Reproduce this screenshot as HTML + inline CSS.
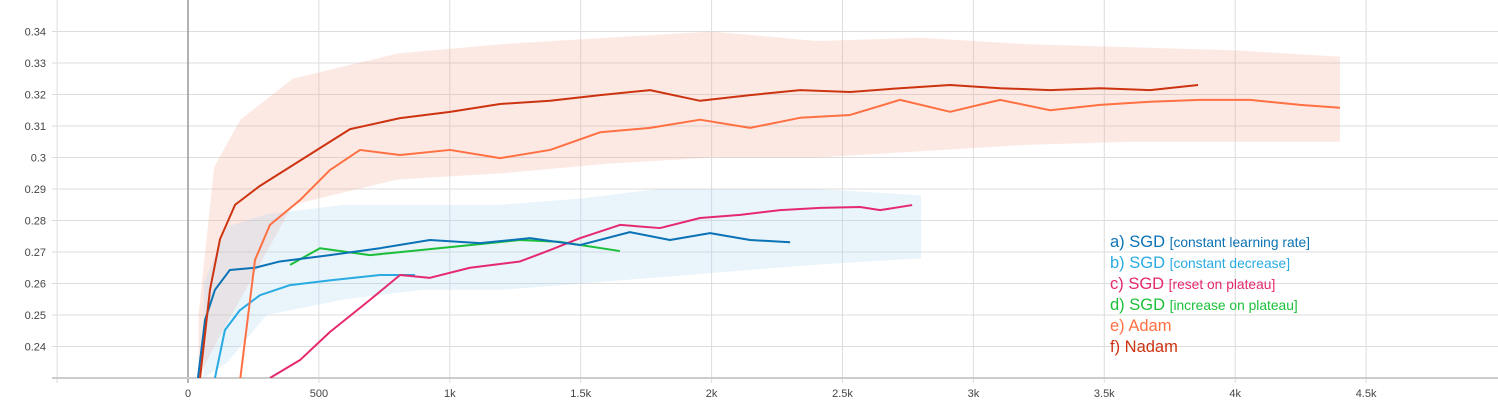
<!DOCTYPE html>
<html><head><meta charset="utf-8"><style>
html,body{margin:0;padding:0;background:#fff;width:1498px;height:400px;overflow:hidden}
svg{display:block;font-family:"Liberation Sans",sans-serif}
</style></head><body>
<svg id="chart" width="1498" height="400" xmlns="http://www.w3.org/2000/svg"></svg>
<script>
const xTicks=[-500,0,500,1000,1500,2000,2500,3000,3500,4000,4500];
const xTickLabels=["","0","500","1k","1.5k","2k","2.5k","3k","3.5k","4k","4.5k"];
const yTicks=[0.24,0.25,0.26,0.27,0.28,0.29,0.3,0.31,0.32,0.33,0.34];
const yTickLabels=["0.24","0.25","0.26","0.27","0.28","0.29","0.3","0.31","0.32","0.33","0.34"];
const nadamX=[46,84,122,180,275,428,619,810,1001,1192,1383,1574,1765,1956,2147,2338,2529,2720,2911,3102,3293,3484,3675,3858];
const nadamY=[0.23,0.258,0.274,0.285,0.291,0.299,0.309,0.3125,0.3145,0.317,0.318,0.3198,0.3214,0.318,0.3198,0.3214,0.3208,0.322,0.323,0.322,0.3214,0.322,0.3214,0.323];
const adamX=[200,256,313,428,542,657,810,1001,1192,1383,1574,1765,1956,2147,2338,2529,2720,2911,3102,3293,3484,3675,3866,4057,4248,4400];
const adamY=[0.23,0.2675,0.2786,0.2865,0.296,0.3024,0.3008,0.3024,0.2998,0.3024,0.308,0.3094,0.312,0.3094,0.3126,0.3135,0.3183,0.3145,0.3183,0.315,0.3167,0.3177,0.3183,0.3183,0.3167,0.3158];
const sgdAX=[38,65,103,160,256,351,542,733,924,1115,1306,1497,1688,1841,1994,2147,2300];
const sgdAY=[0.23,0.2484,0.258,0.2643,0.265,0.267,0.269,0.2712,0.2738,0.2728,0.2744,0.2722,0.2763,0.2738,0.276,0.2738,0.2731];
const sgdBX=[103,141,198,275,390,542,733,867];
const sgdBY=[0.23,0.2452,0.2515,0.2563,0.2595,0.261,0.2627,0.2627];
const sgdCX=[313,428,542,695,810,924,1077,1268,1383,1497,1650,1803,1956,2109,2262,2415,2567,2644,2766];
const sgdCY=[0.23,0.2357,0.2446,0.2548,0.2627,0.2618,0.265,0.267,0.2706,0.2744,0.2786,0.2776,0.2808,0.2818,0.2833,0.284,0.2843,0.2833,0.2849];
const sgdDX=[390,504,695,886,1077,1268,1421,1650];
const sgdDY=[0.2659,0.2712,0.269,0.2706,0.2722,0.2738,0.2732,0.2703];
const adamBandX=[40,100,200,400,800,1200,1600,2000,2400,2800,3200,3600,4000,4400];
const adamBandHi=[0.25,0.297,0.312,0.325,0.333,0.336,0.338,0.34,0.337,0.338,0.336,0.335,0.334,0.332];
const adamBandLo=[0.23,0.24,0.255,0.285,0.293,0.295,0.298,0.3,0.3,0.302,0.304,0.305,0.305,0.305];
const sgdBandX=[60,150,300,600,900,1200,1500,1800,2100,2400,2800];
const sgdBandHi=[0.26,0.278,0.282,0.285,0.285,0.285,0.287,0.29,0.29,0.29,0.288];
const sgdBandLo=[0.23,0.235,0.25,0.255,0.258,0.258,0.26,0.262,0.264,0.266,0.268];

const svg=document.getElementById('chart');
const NS='http://www.w3.org/2000/svg';
const sx=v=>188+v*0.2618;
const sy=v=>31.5+(0.34-v)*3150;
function mk(t,a,p){const e=document.createElementNS(NS,t);for(const k in a)e.setAttribute(k,a[k]);(p||svg).appendChild(e);return e;}
const clip=mk('clipPath',{id:'pc'});mk('rect',{x:58,y:0,width:1440,height:378},clip);
yTicks.forEach((v,i)=>{
 const l=mk('line',{x1:52,x2:1498,y1:sy(v),y2:sy(v),stroke:'#ddd','stroke-width':1});
 
 
 const t=mk('text',{x:46,y:sy(v)+4,'text-anchor':'end','font-size':11,fill:'#444'});
 t.textContent=yTickLabels[i];
 
 
});
xTicks.forEach((v,i)=>{
 const l=mk('line',{x1:sx(v),x2:sx(v),y1:0,y2:383,stroke:v===0?'#999':'#ddd','stroke-width':v===0?1.5:1});
 
 
 const t=mk('text',{x:sx(v),y:397,'text-anchor':'middle','font-size':11,fill:'#444'});
 t.textContent=xTickLabels[i];
 
 
});
const ax=mk('line',{x1:52,x2:1498,y1:378,y2:378,stroke:'#ccc','stroke-width':2});


const g=mk('g',{'clip-path':'url(#pc)'});
function band(xs,hi,lo,col,name){
 let d='M'+xs.map((x,i)=>sx(x)+','+sy(hi[i])).join('L');
 for(let i=xs.length-1;i>=0;i--)d+='L'+sx(xs[i])+','+sy(lo[i]);
 const p=mk('path',{d:d+'Z',fill:col,'fill-opacity':0.25},g);
 
 
}
band(adamBandX,adamBandHi,adamBandLo,'#f8a890','adam-raw-band');
band(sgdBandX,sgdBandHi,sgdBandLo,'#a8d4ee','sgd-raw-band');
function line(xs,ys,col,name){
 const p=mk('path',{d:'M'+xs.map((x,i)=>sx(x)+','+sy(ys[i])).join('L'),fill:'none',stroke:col,'stroke-width':2,'stroke-linejoin':'round'},g);
 
 
}
line(sgdBX,sgdBY,'#29abe2','series-sgd-constant-decrease');
line(sgdDX,sgdDY,'#1cbf3a','series-sgd-increase-on-plateau');
line(sgdCX,sgdCY,'#e5296f','series-sgd-reset-on-plateau');
line(sgdAX,sgdAY,'#0a72b5','series-sgd-constant-lr');
line(adamX,adamY,'#ff7043','series-adam');
line(nadamX,nadamY,'#cc3311','series-nadam');
const leg=[["a) SGD","[constant learning rate]","#0a72b5"],["b) SGD","[constant decrease]","#29abe2"],["c) SGD","[reset on plateau]","#e5296f"],["d) SGD","[increase on plateau]","#1cbf3a"],["e) Adam","","#ff7043"],["f) Nadam","","#cc3311"]];
leg.forEach((e,i)=>{
 const t=mk('text',{x:1110,y:247+i*21,'font-size':16.5,fill:e[2]});
 
 
 t.textContent=e[0]+' ';
 if(e[1]){const s=mk('tspan',{'font-size':13.8},t);s.textContent=e[1];}
});
</script>
</body></html>
